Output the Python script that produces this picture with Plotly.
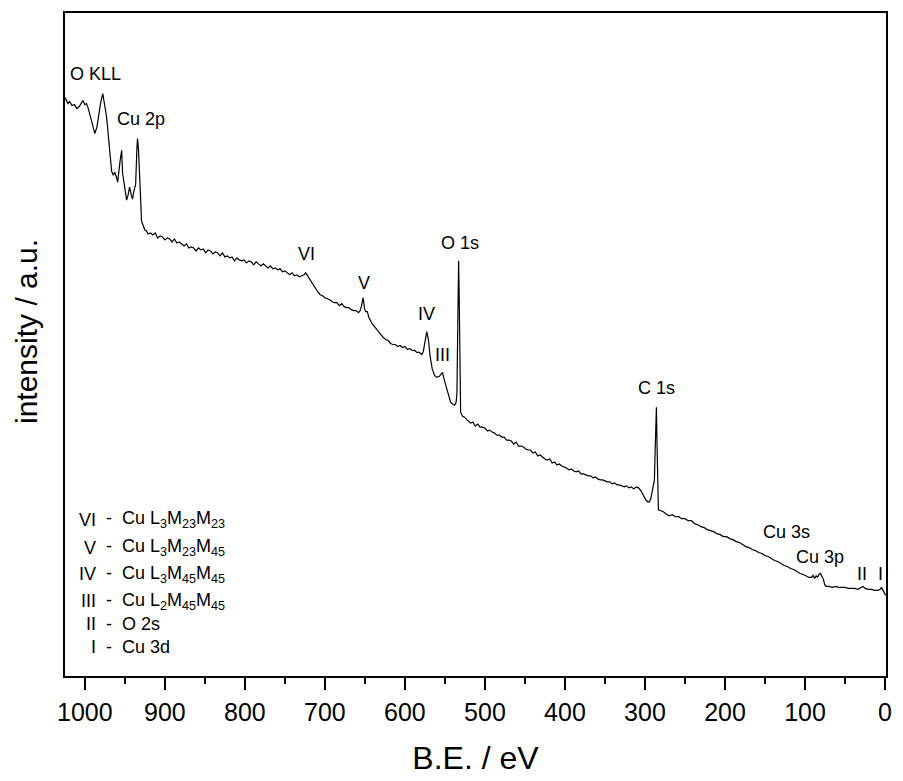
import plotly.graph_objects as go

# ---- spectrum data (binding energy in eV, intensity in a.u.) ----
be_a = [1024.8, 1021, 1019, 1016, 1013, 1010, 1007, 1005, 1002.5, 1000,
        998, 996, 992, 989, 987.6, 985, 982.6, 980, 977.6, 975,
        972.7, 970, 968, 966.5, 964.5, 962.7, 960.5, 959, 956, 954,
        952.8, 950, 947.8, 946, 944.1, 942, 940.4, 939, 938, 936.5,
        935, 934.2, 933, 931.7, 930, 929.2, 927, 925]
int_a = [592, 586, 588, 584, 585, 581, 583, 586, 589, 585,
         586, 582, 570, 560, 556, 562, 575, 588, 596, 585,
         572, 548, 528, 518, 514, 517, 512, 507, 528, 539,
         516, 500, 489, 494, 502, 494, 490, 497, 501, 505,
         540, 551, 540, 521, 485, 468, 462, 459]

be_b = [923, 921, 918, 915, 912, 909, 906, 903, 900, 897,
        894, 891, 888, 885, 882, 879, 876, 873, 870, 867,
        864, 861, 858, 855, 852, 849, 846, 843, 840, 837,
        834, 831, 828, 825, 822, 819, 816, 813, 810, 807,
        804, 801, 798, 795, 792, 789, 786, 783, 780, 777,
        774, 771, 768, 765, 762, 759, 756, 753, 750, 747,
        744, 741, 738, 735, 732, 729, 726, 724, 721, 718,
        715, 712, 709, 706, 703, 700, 697, 694, 691, 688,
        685, 682, 679, 676, 673, 670, 667, 664, 661, 658,
        656, 654.5, 652.2, 650.5, 649, 647, 645, 643, 641, 639,
        636, 633, 630, 627, 624, 621, 618, 615, 612, 609,
        606, 603, 600, 597, 594, 591, 588, 585, 582, 579]
int_b = [458, 455, 456, 454, 456, 451, 453, 452, 449, 451,
         450, 447, 450, 446, 447, 445, 443, 445, 441, 442,
         441, 438, 441, 439, 440, 436, 439, 438, 435, 437,
         436, 433, 436, 432, 433, 431, 432, 428, 431, 429,
         428, 429, 426, 428, 427, 424, 427, 425, 423, 425,
         423, 421, 423, 420, 421, 419, 420, 417, 418, 416,
         414, 416, 413, 414, 412, 413, 414, 416, 412, 409,
         404, 401, 397, 394, 393, 391, 390, 389, 387, 386,
         386, 383, 385, 382, 381, 381, 379, 378, 378, 376,
         378, 382, 391, 380, 377, 377, 371, 367, 365, 363,
         360, 357, 353, 351, 349, 348, 345, 344, 344, 342,
         343, 341, 342, 339, 340, 338, 338, 336, 336, 334]

be_c = [577, 575.2, 572.7, 570.5, 568.5, 566, 563, 560, 557, 555,
        553, 551, 548.5, 546.6, 544.5, 542.9, 540, 537.9, 536, 535,
        534.2, 533.5, 532.9, 532.3, 531.7, 531, 530.4, 528, 525.5, 522,
        518, 515, 512, 509, 506, 503, 500, 497, 494, 491,
        488, 485, 482, 479, 476, 473, 470, 467, 464, 461,
        458, 455, 452, 449, 446, 443, 440, 437, 434, 431,
        428, 425, 422, 419, 416, 413, 410, 407, 404, 401,
        398, 395, 392, 389, 386, 383, 380, 377, 374, 371,
        368, 365, 362, 359, 356, 353, 350, 347, 344, 341,
        338, 335, 332, 329, 326, 323, 320, 317, 314, 311,
        308, 305, 302, 299, 296.5, 294.4, 292.5, 290.7, 289, 288.2,
        287.2, 286.4, 285.7, 285.1, 284.5, 283.8, 283.2, 280, 277]
int_c = [337, 345, 357, 348, 332, 320, 313, 311, 312, 314,
         316, 309, 302, 295, 290, 286, 284, 283, 286, 295,
         348, 400, 428, 400, 348, 300, 276, 272, 271, 268,
         265, 266, 262, 264, 261, 261, 260, 257, 258, 256,
         255, 253, 253, 251, 251, 248, 248, 247, 244, 246,
         242, 242, 241, 239, 238, 238, 235, 236, 232, 233,
         231, 229, 228, 229, 225, 226, 223, 224, 222, 221,
         220, 218, 219, 217, 216, 217, 214, 214, 213, 212,
         212, 210, 211, 209, 208, 208, 207, 206, 206, 204,
         205, 203, 203, 202, 201, 202, 200, 201, 199, 201,
         200, 197, 192, 188, 186, 186, 190, 198, 203, 208,
         240, 270, 281, 250, 208, 185, 178, 177, 176]

be_d = [274, 270, 266, 262, 258, 254, 250, 246, 242, 238,
        234, 230, 226, 222, 218, 214, 210, 206, 202, 198,
        194, 190, 186, 182, 178, 174, 170, 166, 162, 158,
        154, 150, 146, 142, 138, 134, 130, 126, 122, 118,
        114, 110, 106, 102, 98, 95, 92, 90, 88, 86,
        84.5, 82.5, 80.7, 79, 77, 75.5, 74, 70, 66, 62,
        58, 54, 50, 46, 42, 38, 34, 30, 27.5, 25,
        21, 17, 13, 9, 6, 4.5, 3, 1.5, 0, -1.2]
int_d = [174, 172, 173, 171, 171, 169, 169, 167, 167, 164,
         163, 161, 160, 158, 157, 156, 154, 153, 151, 151,
         149, 148, 146, 145, 143, 141, 140, 138, 137, 135,
         134, 132, 131, 129, 127, 126, 124, 122, 121, 119,
         118, 116, 114, 113, 111, 110, 110, 112, 109, 112,
         110, 113, 114, 111, 108, 103, 101, 101, 100, 101,
         100, 100, 100, 99, 99, 99, 98, 100, 101, 99,
         98, 98, 97, 97, 98, 100, 97, 94, 93, 92]

# ---- peak labels ----
peak_labels = ["O KLL", "Cu 2p", "VI", "V", "IV", "III", "O 1s", "C 1s",
               "Cu 3s", "Cu 3p", "II", "I"]
peak_x = [986.3, 930.4, 723, 651, 572.7, 552.8, 531.7, 285.7, 123, 80.7, 28.6, 6.2]
peak_y = [616, 571, 435, 406, 375, 333, 446, 300, 156, 131, 113, 113]

# ---- key (bottom-left) ----
key_numerals = ["VI", "V", "IV", "III", "II", "I"]
key_texts = ["Cu L<sub>3</sub>M<sub>23</sub>M<sub>23</sub>",
             "Cu L<sub>3</sub>M<sub>23</sub>M<sub>45</sub>",
             "Cu L<sub>3</sub>M<sub>45</sub>M<sub>45</sub>",
             "Cu L<sub>2</sub>M<sub>45</sub>M<sub>45</sub>",
             "O 2s",
             "Cu 3d"]
key_y = [168, 140, 113, 86, 63, 40]

x_ticks = [0, 100, 200, 300, 400, 500, 600, 700, 800, 900, 1000]

be = be_a + be_b + be_c + be_d
inten = int_a + int_b + int_c + int_d

FONT = "Liberation Sans, Arial, sans-serif"

fig = go.Figure()
fig.add_trace(go.Scatter(x=be, y=inten, mode="lines",
                         line=dict(color="black", width=1.2),
                         showlegend=False, hoverinfo="skip"))

annotations = []
for t, x, y in zip(peak_labels, peak_x, peak_y):
    annotations.append(dict(x=x, y=y, xref="x", yref="y", text=t, showarrow=False,
                            font=dict(size=18, color="black", family=FONT),
                            xanchor="center", yanchor="middle"))
for n, t, y in zip(key_numerals, key_texts, key_y):
    annotations.append(dict(x=983.5, y=y, xref="x", yref="y", text=n, showarrow=False,
                            font=dict(size=18, color="black", family=FONT),
                            xanchor="right", yanchor="middle"))
    annotations.append(dict(x=976.0, y=y, xref="x", yref="y",
                            text="-\u00a0\u00a0" + t, showarrow=False,
                            font=dict(size=18, color="black", family=FONT),
                            xanchor="left", yanchor="middle"))
annotations.append(dict(x=-0.0478, y=0.52, xref="paper", yref="paper",
                        text="intensity / a.u.", showarrow=False, textangle=-90,
                        font=dict(size=30, color="black", family=FONT),
                        xanchor="center", yanchor="middle"))

fig.update_layout(
    width=903, height=781,
    margin=dict(l=65, r=12, t=11, b=104),
    paper_bgcolor="white", plot_bgcolor="white",
    font=dict(family=FONT, color="black"),
    annotations=annotations,
)
fig.update_xaxes(
    range=[1024.8, -1.2], tickvals=x_ticks, ticks="outside", ticklen=12, tickwidth=2,
    tickcolor="black", showline=True, linewidth=2, linecolor="black", mirror=True,
    showgrid=False, zeroline=False, tickfont=dict(size=25, family=FONT, color="black"),
    ticklabelstandoff=1,
    minor=dict(ticks="outside", dtick=50, tick0=0, ticklen=6, tickwidth=2, tickcolor="black",
               showgrid=False),
    title=dict(text="B.E. / eV", font=dict(size=32, family=FONT, color="black"), standoff=22),
)
fig.update_yaxes(
    range=[11, 677], showticklabels=False, ticks="", showline=True, linewidth=2,
    linecolor="black", mirror=True, showgrid=False, zeroline=False,
)

fig.write_html("out.html")
